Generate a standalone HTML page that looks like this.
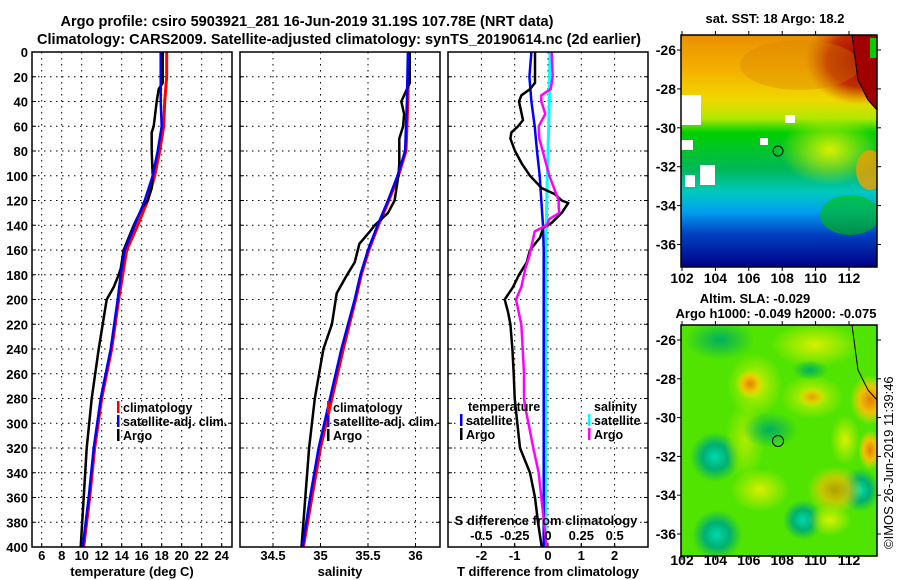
<!DOCTYPE html>
<html><head><meta charset="utf-8"><style>
html,body{margin:0;padding:0;background:#fff;}
svg{display:block;font-family:"Liberation Sans",sans-serif;font-weight:bold;}
</style></head><body>
<svg id="c" width="900" height="580" viewBox="0 0 900 580">
<defs>
<linearGradient id="sstg" x1="0" y1="0" x2="0" y2="1">
<stop offset="0" stop-color="#e89000"/><stop offset="0.15" stop-color="#f4b000"/>
<stop offset="0.28" stop-color="#f0d800"/><stop offset="0.36" stop-color="#b0e800"/>
<stop offset="0.42" stop-color="#00d000"/><stop offset="0.58" stop-color="#00b858"/>
<stop offset="0.68" stop-color="#00c8c0"/><stop offset="0.76" stop-color="#00a0f0"/>
<stop offset="0.86" stop-color="#0040c0"/><stop offset="1" stop-color="#000088"/>
</linearGradient>
<radialGradient id="rY"><stop offset="0" stop-color="#e8f000"/><stop offset="1" stop-color="#e8f000" stop-opacity="0"/></radialGradient>
<radialGradient id="rO"><stop offset="0" stop-color="#e08000"/><stop offset="0.5" stop-color="#f0c000"/><stop offset="1" stop-color="#f0e000" stop-opacity="0"/></radialGradient>
<radialGradient id="rT"><stop offset="0" stop-color="#00d8b0"/><stop offset="0.5" stop-color="#00b070"/><stop offset="1" stop-color="#00b070" stop-opacity="0"/></radialGradient>
<radialGradient id="rG"><stop offset="0" stop-color="#00b060"/><stop offset="1" stop-color="#00b060" stop-opacity="0"/></radialGradient>
<radialGradient id="rR"><stop offset="0" stop-color="#a00000"/><stop offset="0.6" stop-color="#c03000"/><stop offset="1" stop-color="#d06000" stop-opacity="0"/></radialGradient>
<radialGradient id="rYG"><stop offset="0" stop-color="#d8f000"/><stop offset="1" stop-color="#d8f000" stop-opacity="0"/></radialGradient>
</defs>

<text x="307" y="26" text-anchor="middle" font-size="15" textLength="493" lengthAdjust="spacingAndGlyphs">Argo profile: csiro 5903921_281 16-Jun-2019 31.19S 107.78E (NRT data)</text>
<text x="339" y="44" text-anchor="middle" font-size="15" textLength="604" lengthAdjust="spacingAndGlyphs">Climatology: CARS2009. Satellite-adjusted climatology: synTS_20190614.nc (2d earlier)</text>

<g id="panels"></g>

<!-- SST map -->
<g>
<clipPath id="cp1"><rect x="681" y="35" width="196" height="232"/></clipPath>
<g clip-path="url(#cp1)">
<rect x="681" y="35" width="196" height="232" fill="url(#sstg)"/>
<ellipse cx="860" cy="60" rx="55" ry="45" fill="url(#rR)"/>
<ellipse cx="800" cy="65" rx="60" ry="25" fill="#d88000" opacity="0.35"/>
<ellipse cx="830" cy="150" rx="50" ry="35" fill="url(#rYG)"/>
<ellipse cx="870" cy="170" rx="14" ry="20" fill="#f0a000" opacity="0.8"/>
<ellipse cx="850" cy="215" rx="30" ry="20" fill="#00c000" opacity="0.6"/>
<rect x="681" y="95" width="20" height="30" fill="#fff"/>
<rect x="681" y="140" width="12" height="10" fill="#fff"/>
<rect x="700" y="165" width="15" height="20" fill="#fff"/>
<rect x="685" y="175" width="10" height="12" fill="#fff"/>
<rect x="785" y="115" width="10" height="8" fill="#fff"/>
<rect x="760" y="138" width="8" height="7" fill="#fff"/>
<path d="M852 35 L858 80 L868 100 L877 110 L877 35 Z" fill="#a00000"/>
<path d="M852 35 L858 80 L868 100 L877 110" fill="none" stroke="#000" stroke-width="1"/>
<rect x="870" y="38" width="7" height="20" fill="#00d000"/>
</g>
<rect x="681" y="35" width="196" height="232" fill="none" stroke="#000" stroke-width="1.5"/>
<circle cx="778" cy="151" r="5" fill="none" stroke="#000" stroke-width="1"/>
</g>

<!-- SLA map -->
<g>
<clipPath id="cp2"><rect x="681" y="325" width="196" height="231"/></clipPath>
<g clip-path="url(#cp2)">
<rect x="681" y="325" width="196" height="231" fill="#50e400"/>
<ellipse cx="720" cy="340" rx="35" ry="20" fill="url(#rG)"/>
<ellipse cx="755" cy="385" rx="28" ry="32" fill="url(#rYG)"/>
<ellipse cx="750" cy="384" rx="14" ry="14" fill="url(#rO)"/>
<ellipse cx="815" cy="345" rx="45" ry="22" fill="url(#rYG)"/>
<ellipse cx="812" cy="397" rx="32" ry="22" fill="url(#rYG)"/>
<ellipse cx="812" cy="397" rx="14" ry="10" fill="url(#rO)" opacity="0.7"/>
<ellipse cx="810" cy="370" rx="18" ry="10" fill="url(#rG)"/>
<ellipse cx="870" cy="400" rx="20" ry="25" fill="url(#rO)"/>
<ellipse cx="870" cy="450" rx="12" ry="20" fill="url(#rO)"/>
<ellipse cx="715" cy="457" rx="25" ry="25" fill="url(#rT)"/>
<ellipse cx="717" cy="535" rx="25" ry="25" fill="url(#rT)"/>
<ellipse cx="803" cy="520" rx="20" ry="20" fill="url(#rT)"/>
<ellipse cx="860" cy="490" rx="20" ry="22" fill="url(#rT)"/>
<ellipse cx="835" cy="490" rx="28" ry="24" fill="url(#rO)" opacity="0.7"/>
<ellipse cx="760" cy="490" rx="30" ry="22" fill="url(#rYG)"/>
<ellipse cx="745" cy="440" rx="20" ry="40" fill="url(#rYG)" opacity="0.7"/>
<ellipse cx="770" cy="430" rx="28" ry="18" fill="url(#rG)"/>
<ellipse cx="830" cy="520" rx="22" ry="16" fill="url(#rYG)"/>
<ellipse cx="845" cy="440" rx="15" ry="25" fill="url(#rYG)"/>
<path d="M852 325 L858 370 L868 390 L877 400" fill="none" stroke="#000" stroke-width="1"/>
</g>
<rect x="681" y="325" width="196" height="231" fill="none" stroke="#000" stroke-width="1.5"/>
<circle cx="778" cy="441" r="5.5" fill="none" stroke="#000" stroke-width="1"/>
</g>

<text x="775" y="23" text-anchor="middle" font-size="13">sat. SST: 18 Argo: 18.2</text>
<text x="755" y="303" text-anchor="middle" font-size="13">Altim. SLA: -0.029</text>
<text x="776" y="318" text-anchor="middle" font-size="13">Argo h1000: -0.049 h2000: -0.075</text>
<text transform="translate(893,549) rotate(-90)" font-size="13" font-weight="normal">©IMOS 26-Jun-2019 11:39:46</text>
</svg>
<script>
// ---- data ----
var depthTicks=[0,20,40,60,80,100,120,140,160,180,200,220,240,260,280,300,320,340,360,380,400];
var tempTicks=[6,8,10,12,14,16,18,20,22,24];
var salTicks=[34.5,35,35.5,36];
var tdTicks=[-2,-1,0,1,2];
var sdTicks=[-0.5,-0.25,0,0.25,0.5];
var sdTickLabels=["-0.5","-0.25","0","0.25","0.5"];
var lonTicks=[102,104,106,108,110,112];
var latTicks=[-26,-28,-30,-32,-34,-36];

var tDepth=[0,20,40,60,80,100,120,140,160,180,200,240,280,320,360,400];
var tClim=[18.5,18.5,18.3,18.2,17.8,17.3,16.6,15.6,14.5,14.1,13.7,13.0,12.0,11.3,10.8,10.2];
var tSat=[17.9,17.9,17.9,18.0,17.6,17.1,16.3,15.3,14.3,13.9,13.6,12.9,11.9,11.2,10.7,10.1];
var aDepth=[0,25,30,40,60,65,80,100,110,120,125,140,150,160,175,180,190,200,240,280,320,360,400];
var tArgo=[18.1,18.1,17.7,17.5,17.2,17.0,17.0,17.1,17.0,16.6,16.1,15.2,14.7,14.2,13.9,13.7,13.2,12.5,11.7,11.0,10.5,10.2,9.9];

var sDepth=[0,40,80,100,120,140,160,180,200,240,280,320,360,400];
var sSat=[35.92,35.91,35.89,35.81,35.71,35.60,35.50,35.42,35.36,35.22,35.10,34.98,34.89,34.81];
var sClim=[35.93,35.92,35.90,35.82,35.72,35.61,35.51,35.43,35.37,35.24,35.12,35.00,34.91,34.82];
var saDepth=[0,25,30,40,50,60,70,90,100,110,120,130,140,145,155,170,180,195,220,240,280,320,360,400];
var sArgo=[35.94,35.94,35.91,35.85,35.88,35.87,35.83,35.83,35.82,35.80,35.78,35.71,35.57,35.52,35.41,35.36,35.28,35.17,35.12,35.03,34.94,34.88,34.84,34.80];

var dDepth=[0,20,40,60,80,100,120,140,160,400];
var tdSat=[-0.5,-0.56,-0.5,-0.4,-0.33,-0.25,-0.2,-0.15,-0.13,-0.13];
var sdSat=[0.015,0.012,0.01,0.005,0,-0.005,-0.01,-0.012,-0.015,-0.02];
var dtDepth=[0,25,30,35,40,55,60,65,70,80,90,100,110,115,120,122,130,138,142,150,160,170,180,190,200,210,220,240,260,280,290,320,340,360,380,400];
var tdArgo=[-0.39,-0.39,-0.54,-0.8,-0.87,-0.75,-0.9,-1.1,-1.13,-0.99,-0.79,-0.54,-0.19,0.21,0.41,0.61,0.41,0.11,-0.14,-0.24,-0.54,-0.64,-0.87,-1.05,-1.3,-1.2,-1.13,-1.07,-1.03,-1.0,-0.96,-0.84,-0.54,-0.39,-0.3,-0.19];
var dsDepth=[0,20,30,35,40,50,60,70,80,90,100,110,120,125,130,135,140,145,155,165,175,180,190,200,220,240,260,280,290,320,340,360,380,400];
var sdArgo=[0.028,0.035,0.02,-0.05,-0.05,-0.02,-0.07,-0.065,-0.04,-0.015,0.01,0.045,0.08,0.08,0.085,0.01,-0.01,-0.1,-0.12,-0.14,-0.17,-0.18,-0.2,-0.24,-0.2,-0.19,-0.18,-0.18,-0.165,-0.11,-0.07,-0.05,-0.03,-0.01];

// ---- axes ----
var Y0=52,Y1=547;
function yD(d){return Y0+(d/400)*(Y1-Y0);}
function xT(t){return 41.7+(t-6)*10;}
function xS(s){return 273+(s-34.5)*95;}
function xTD(v){return 548+v*33.3;}
function xSD(v){return 548+v*133.3;}
function xLon(l){return 682+(l-102)*16.7;}
function yLat1(l){return 50+(-26-l)*19.45;}
function yLat2(l){return 340+(-26-l)*19.4;}

var NS='http://www.w3.org/2000/svg';
var svg=document.getElementById('c');
var G=document.getElementById('panels');
function mk(tag,attrs,parent){var e=document.createElementNS(NS,tag);for(var k in attrs)e.setAttribute(k,attrs[k]);(parent||G).appendChild(e);return e;}
function txt(x,y,s,size,anchor,parent){var e=mk('text',{x:x,y:y,'font-size':size,'text-anchor':anchor},parent);e.textContent=s;return e;}

var panels=[{x:32,w:200,name:'temperature-panel'},{x:240,w:200,name:'salinity-panel'},{x:448,w:200,name:'difference-panel'}];
panels.forEach(function(p,i){
  var g=mk('g',{});
  
  
  p.g=g;
  depthTicks.forEach(function(d){
    if(d>0&&d<400){var l=mk('line',{x1:p.x,x2:p.x+p.w,y1:yD(d),y2:yD(d),stroke:'#000','stroke-width':1,'stroke-dasharray':'1.5,4.5'},g);
    
    }
    mk('line',{x1:p.x,x2:p.x+4,y1:yD(d),y2:yD(d),stroke:'#000'},g);
    mk('line',{x1:p.x+p.w-4,x2:p.x+p.w,y1:yD(d),y2:yD(d),stroke:'#000'},g);
  });
});
function vgrid(p,xs){xs.forEach(function(x){if(x>p.x+1&&x<p.x+p.w-1){var l=mk('line',{x1:x,x2:x,y1:Y0,y2:Y1,stroke:'#000','stroke-width':1,'stroke-dasharray':'1.5,4.5'},p.g);

}
mk('line',{x1:x,x2:x,y1:Y1,y2:Y1-4,stroke:'#000'},p.g);});}
vgrid(panels[0],tempTicks.map(xT));
vgrid(panels[1],salTicks.map(xS));
vgrid(panels[2],tdTicks.map(xTD));

depthTicks.forEach(function(d){var t=txt(28,yD(d)+5,String(d),13,'end');

});
tempTicks.forEach(function(v){var t=txt(xT(v),560,String(v),13,'middle');

});
salTicks.forEach(function(v){var t=txt(xS(v),560,String(v),13,'middle');

});
tdTicks.forEach(function(v){var t=txt(xTD(v),560,String(v),13,'middle');

});
sdTicks.forEach(function(v,i){var t=txt(xSD(v),540,sdTickLabels[i],13,'middle');


mk('line',{x1:xSD(v),x2:xSD(v),y1:Y1,y2:Y1-4,stroke:'#000'},panels[2].g);});
var t1=txt(132,576,'temperature (deg C)',13,'middle');
var t2=txt(340,576,'salinity',13,'middle');
var t3=txt(548,576,'T difference from climatology',13,'middle');
var t4=txt(546,525,'S difference from climatology',13,'middle');

function line(xs,ds,fx,col,w,name,p){
  var pts=xs.map(function(v,i){return fx(v).toFixed(1)+','+yD(ds[i]).toFixed(1);}).join(' ');
  var e=mk('polyline',{points:pts,fill:'none',stroke:col,'stroke-width':w,'stroke-linejoin':'round'},p.g);
  
  
}
line(tClim,tDepth,xT,'#ff0000',3,'temperature-climatology-line',panels[0]);
line(tArgo,aDepth,xT,'#000',2.5,'temperature-argo-line',panels[0]);
line(tSat,tDepth,xT,'#0000ff',2.5,'temperature-satellite-line',panels[0]);
line(sClim,sDepth,xS,'#ff0000',3,'salinity-climatology-line',panels[1]);
line(sArgo,saDepth,xS,'#000',2.5,'salinity-argo-line',panels[1]);
line(sSat,sDepth,xS,'#0000ff',2.5,'salinity-satellite-line',panels[1]);
line(sdSat,dDepth,xSD,'#00ffff',3,'s-diff-satellite-line',panels[2]);
line(tdSat,dDepth,xTD,'#0000ff',2.5,'t-diff-satellite-line',panels[2]);
line(tdArgo,dtDepth,xTD,'#000',2.5,'t-diff-argo-line',panels[2]);
line(sdArgo,dsDepth,xSD,'#ff00ff',2.5,'s-diff-argo-line',panels[2]);

panels.forEach(function(p){mk('rect',{x:p.x,y:Y0,width:p.w,height:Y1-Y0,fill:'none',stroke:'#000','stroke-width':1.5},p.g);});

function legend(x,y,col,label,name){
  var g=mk('g',{});
  
  
  mk('rect',{x:x,y:y-11,width:2.5,height:12,fill:col},g);
  txt(x+6,y,label,12.5,'start',g);
}
legend(117,412,'#ff0000','climatology','legend-climatology');
legend(117,426,'#0000ff','satellite-adj. clim.','legend-satellite-adj');
legend(117,440,'#000','Argo','legend-argo');
legend(327,412,'#ff0000','climatology','legend-s-climatology');
legend(327,426,'#0000ff','satellite-adj. clim.','legend-s-satellite-adj');
legend(327,440,'#000','Argo','legend-s-argo');
var lt=txt(468,411,'temperature',12.5,'start');
var ls=txt(594,411,'salinity',12.5,'start');
legend(460,425,'#0000ff','satellite','legend-t-satellite');
legend(460,439,'#000','Argo','legend-t-argo');
legend(588,425,'#00ffff','satellite','legend-s-satellite');
legend(588,439,'#ff00ff','Argo','legend-s-argo-diff');

[[yLat1,283,35,267],[yLat2,565,325,556]].forEach(function(m,mi){
  lonTicks.forEach(function(l){var t=txt(xLon(l),m[1],String(l),14,'middle',svg);
  
  
  mk('line',{x1:xLon(l),x2:xLon(l),y1:m[3],y2:m[3]+4,stroke:'#000'},svg);
  mk('line',{x1:xLon(l),x2:xLon(l),y1:m[2],y2:m[2]-4,stroke:'#000'},svg);});
  latTicks.forEach(function(l){var t=txt(676,m[0](l)+5,String(l),14,'end',svg);
  
  
  mk('line',{x1:677,x2:681,y1:m[0](l),y2:m[0](l),stroke:'#000'},svg);
  mk('line',{x1:877,x2:881,y1:m[0](l),y2:m[0](l),stroke:'#000'},svg);});
});
</script>
</body></html>
